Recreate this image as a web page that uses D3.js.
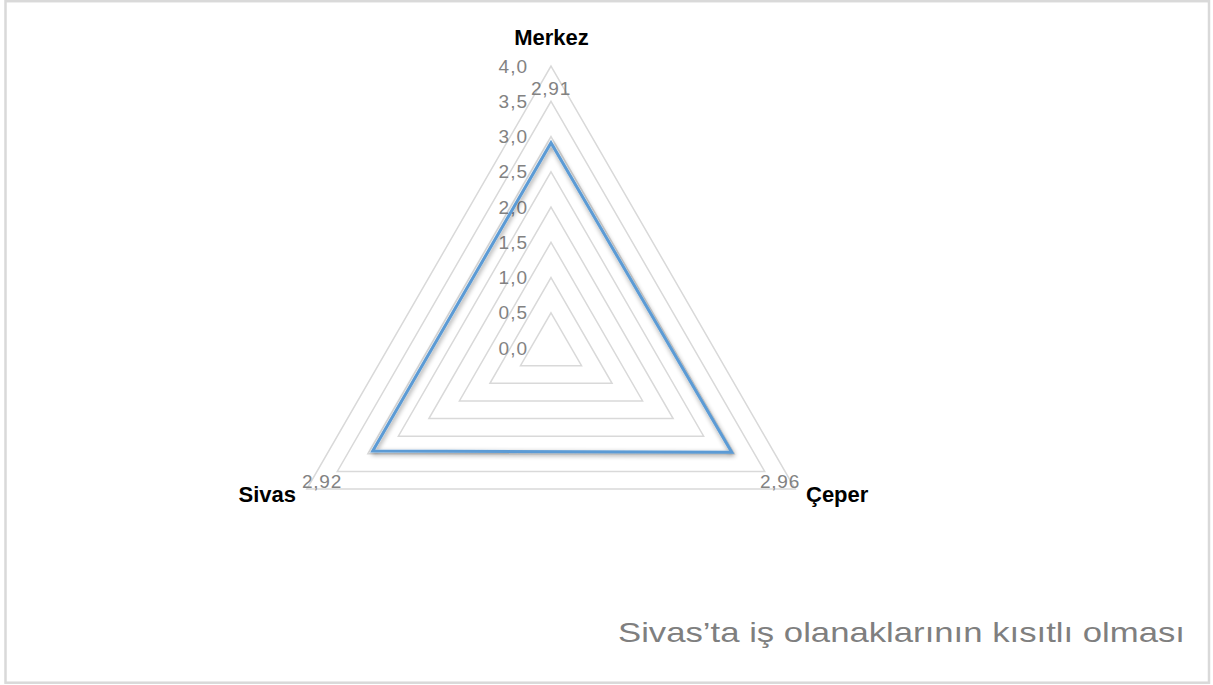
<!DOCTYPE html>
<html><head><meta charset="utf-8">
<script src="https://cdn.jsdelivr.net/npm/d3@7"></script>
<style>html,body{margin:0;padding:0;background:#fff;}svg{display:block;}</style>
</head><body>
<svg id="chart" width="1213" height="685"></svg>
<script>
const categories = ["Merkez", "Çeper", "Sivas"];
const values = [2.91, 2.96, 2.92];
const valueLabels = ["2,91", "2,96", "2,92"];
const tickValues = [0, 0.5, 1, 1.5, 2, 2.5, 3, 3.5, 4];
const tickLabels = ["0,0", "0,5", "1,0", "1,5", "2,0", "2,5", "3,0", "3,5", "4,0"];
const title = "Sivas’ta iş olanaklarının kısıtlı olması";

const svg = d3.select("#chart");
const cx = 551, cy = 348;
const r = d3.scaleLinear().domain([0, 4]).range([0, 282]);
const ang = d3.scalePoint().domain(categories).range([0, 240]); // degrees clockwise from top
const FONT = "Liberation Sans, Arial, sans-serif";

function pt(cat, v) {
  const a = ang(cat) * Math.PI / 180;
  return [cx + r(v) * Math.sin(a), cy - r(v) * Math.cos(a)];
}

// frame
svg.append("rect").attr("x", 5.5).attr("y", 1.2).attr("width", 1203.5).attr("height", 681.5)
  .attr("fill", "#fff").attr("stroke", "#d9d9d9").attr("stroke-width", 2.5);

const defs = svg.append("defs");
const f = defs.append("filter").attr("id", "sh").attr("x", "-20%").attr("y", "-20%").attr("width", "140%").attr("height", "140%");
f.append("feGaussianBlur").attr("in", "SourceAlpha").attr("stdDeviation", 2.5).attr("result", "b");
f.append("feOffset").attr("in", "b").attr("dx", 1).attr("dy", 2).attr("result", "o");
f.append("feComponentTransfer").attr("in", "o").attr("result", "o2")
  .append("feFuncA").attr("type", "linear").attr("slope", 0.45);
const m = f.append("feMerge");
m.append("feMergeNode").attr("in", "o2");
m.append("feMergeNode").attr("in", "SourceGraphic");

// grid triangles
const line = d3.line().curve(d3.curveLinearClosed);
svg.append("g").selectAll("path").data(tickValues.filter(v => v > 0)).join("path")
  .attr("d", v => line(categories.map(c => pt(c, v))))
  .attr("fill", "none").attr("stroke", "#d9d9d9").attr("stroke-width", 1.5);

// tick labels
svg.append("g").selectAll("text").data(tickValues).join("text")
  .attr("x", cx - 23).attr("y", v => cy - r(v) + 6.5)
  .attr("text-anchor", "end")
  .attr("font-family", FONT).attr("font-size", 19).attr("letter-spacing", 1)
  .attr("fill", "#828282")
  .text((v, i) => tickLabels[i]);

// data polygon
svg.append("path")
  .attr("d", line(categories.map((c, i) => pt(c, values[i]))))
  .attr("fill", "none").attr("stroke", "#5b9bd5").attr("stroke-width", 3)
  .attr("stroke-linejoin", "miter").attr("filter", "url(#sh)");

// data labels (placed like reference)
const dlPos = [[0, -253], [229, 140], [-229, 140]];
svg.append("g").selectAll("text").data(valueLabels).join("text")
  .attr("x", (d, i) => cx + dlPos[i][0]).attr("y", (d, i) => cy + dlPos[i][1])
  .attr("text-anchor", "middle")
  .attr("font-family", FONT).attr("font-size", 19).attr("letter-spacing", 0.8)
  .attr("fill", "#828282").text(d => d);

// category labels
const catPos = [[551.5, 45, "middle"], [806, 501.5, "start"], [296, 501.5, "end"]];
svg.append("g").selectAll("text").data(categories).join("text")
  .attr("x", (d, i) => catPos[i][0]).attr("y", (d, i) => catPos[i][1])
  .attr("text-anchor", (d, i) => catPos[i][2])
  .attr("font-family", FONT).attr("font-weight", "bold")
  .attr("font-size", 22).attr("fill", "#000").text(d => d);

// title
svg.append("text").attr("x", 618).attr("y", 642)
  .attr("text-anchor", "start")
  .attr("textLength", 567).attr("lengthAdjust", "spacingAndGlyphs")
  .attr("font-family", FONT).attr("font-size", 28)
  .attr("fill", "#7f7f7f").text(title);
</script>
</body></html>
